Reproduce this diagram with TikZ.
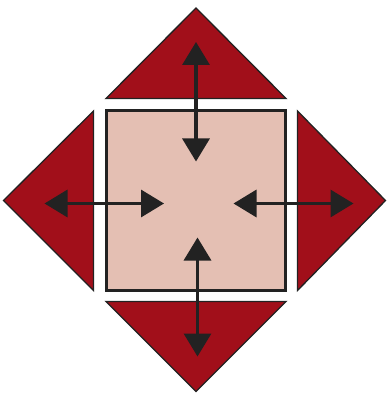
\documentclass[tikz,border=0pt]{standalone}
\usetikzlibrary{arrows.meta}
\definecolor{trired}{HTML}{A10F1A}
\definecolor{sqpink}{HTML}{E4BFB3}
\definecolor{ink}{HTML}{222222}
\begin{document}
\begin{tikzpicture}[x=1pt,y=-1pt,
  tribox/.style={fill=trired,draw=ink,line width=1.3pt,line join=miter},
  sqbox/.style={fill=sqpink,draw=ink,line width=3pt},
  dbl/.style={{Triangle[length=23pt,width=27pt]}-{Triangle[length=23pt,width=27pt]},line width=3.3pt,draw=ink,color=ink}]
\useasboundingbox (0,0) rectangle (386,395);
% triangles
\draw[tribox] (106,98.5) -- (196,8) -- (286,98.5) -- cycle;
\draw[tribox] (106,301.5) -- (196,391.5) -- (286,301.5) -- cycle;
\draw[tribox] (93.5,111) -- (3.5,200.5) -- (93.5,290.5) -- cycle;
\draw[tribox] (297.5,111) -- (385.5,200.5) -- (297.5,290.5) -- cycle;
% square
\draw[sqbox] (106,111) rectangle (285,290);
% arrow ends
\coordinate (t1) at (196,42);
\coordinate (t2) at (196,161.5);
\coordinate (b1) at (197.5,237.5);
\coordinate (b2) at (197.5,356.5);
\coordinate (l1) at (44.5,203.5);
\coordinate (l2) at (164,203.5);
\coordinate (r1) at (233.5,203.5);
\coordinate (r2) at (353.5,203.5);
\draw[dbl] (t1) -- (t2);
\draw[dbl] (b1) -- (b2);
\draw[dbl] (l1) -- (l2);
\draw[dbl] (r1) -- (r2);
\end{tikzpicture}
\end{document}
